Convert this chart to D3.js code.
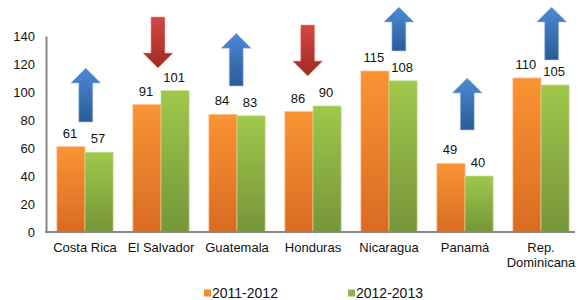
<!DOCTYPE html>
<html>
<head>
<meta charset="utf-8">
<script src="https://cdn.jsdelivr.net/npm/d3@7/dist/d3.min.js"></script>
<style>
  body { margin: 0; background: #fff; }
  svg { display: block; font-family: "Liberation Sans", Arial, sans-serif; }
</style>
</head>
<body>
<div id="chart"></div>
<script>
// ---- data ----
var countries = ["Costa Rica", "El Salvador", "Guatemala", "Honduras", "Nicaragua", "Panamá", "Rep. Dominicana"];
var series = ["2011-2012", "2012-2013"];
var values2011 = [61, 91, 84, 86, 115, 49, 110];
var values2012 = [57, 101, 83, 90, 108, 40, 105];
var yTicks = [0, 20, 40, 60, 80, 100, 120, 140];

// trend arrows (direction, span in value units, sideways nudge as share of a band step)
var arrowDir   = ["up", "down", "up", "down", "up", "up", "up"];
var arrowFrom  = [78.6, 153.6, 104.3, 147.9, 129.3, 72.9, 122.9];
var arrowTo    = [117.1, 117.1, 142, 111.4, 160.7, 110, 160.7];
var arrowShift = [0.01, -0.04, -0.01, -0.07, 0.13, 0.03, 0.14];

// ---- layout ----
var W = 580, H = 300;
var plot = {left: 46, right: 579, top: 36, bottom: 232};
var colors = {
  orange: ["#fa9434", "#d96b22"],
  green: ["#9fc84b", "#75953a"],
  up: ["#4d8ad4", "#2b5a97"],
  down: ["#d44644", "#a1291f"]
};

var svg = d3.select("#chart").append("svg").attr("width", W).attr("height", H);
var defs = svg.append("defs");

function gradient(id, c) {
  var g = defs.append("linearGradient").attr("id", id)
    .attr("x1", 0).attr("y1", 0).attr("x2", 0).attr("y2", 1);
  g.append("stop").attr("offset", "0%").attr("stop-color", c[0]);
  g.append("stop").attr("offset", "100%").attr("stop-color", c[1]);
}
gradient("gOrange", colors.orange);
gradient("gGreen", colors.green);
gradient("gUp", colors.up);
gradient("gDown", colors.down);

var x = d3.scaleBand().domain(countries).range([plot.left + 1, plot.right])
  .paddingInner(0.26).paddingOuter(0.13);
var xs = d3.scaleBand().domain(series).range([0, x.bandwidth()]);
var y = d3.scaleLinear().domain([0, 140]).range([plot.bottom, plot.top]);

// ---- axes ----
var yAxis = svg.append("g").attr("transform", "translate(" + plot.left + ",0)")
  .call(d3.axisLeft(y).tickValues(yTicks).tickSize(0).tickPadding(11));
yAxis.select(".domain").attr("stroke", "#868686").attr("stroke-width", 2);
yAxis.selectAll("text").attr("font-size", 13).attr("fill", "#111")
  .attr("font-family", "Liberation Sans, Arial, sans-serif");

// ---- bars ----
var rows = countries.map(function (c, i) {
  return {country: c, vals: [values2011[i], values2012[i]]};
});

var groups = svg.selectAll(".grp").data(rows).enter().append("g")
  .attr("class", "grp")
  .attr("transform", function (d) { return "translate(" + x(d.country) + ",0)"; });

groups.selectAll("rect").data(function (d) {
  return d.vals.map(function (v, j) { return {s: series[j], v: v}; });
}).enter().append("rect")
  .attr("x", function (d) { return xs(d.s); })
  .attr("y", function (d) { return y(d.v); })
  .attr("width", xs.bandwidth())
  .attr("height", function (d) { return y(0) - y(d.v); })
  .attr("fill", function (d) { return d.s === series[0] ? "url(#gOrange)" : "url(#gGreen)"; })
  .attr("stroke", function (d) { return d.s === series[0] ? "#fcc08a" : "#c6e094"; })
  .attr("stroke-width", 0.7);

groups.selectAll(".val").data(function (d) {
  return d.vals.map(function (v, j) { return {s: series[j], v: v}; });
}).enter().append("text")
  .attr("class", "val")
  .attr("x", function (d) { return xs(d.s) + xs.bandwidth() / 2 - 1; })
  .attr("y", function (d) { return y(d.v) - 9; })
  .attr("text-anchor", "middle")
  .attr("font-size", 13)
  .attr("fill", "#111")
  .text(function (d) { return d.v; });

// x axis line on top of bars
svg.append("line")
  .attr("x1", plot.left - 1).attr("x2", plot.right - 4)
  .attr("y1", y(0)).attr("y2", y(0))
  .attr("stroke", "#868686").attr("stroke-width", 2);

// category labels (split at the space after "Rep.")
svg.selectAll(".cat").data(countries).enter().append("text")
  .attr("class", "cat")
  .attr("text-anchor", "middle")
  .attr("font-size", 13)
  .attr("fill", "#111")
  .each(function (d) {
    var t = d3.select(this);
    var cx = x(d) + x.bandwidth() / 2;
    var lines = d.indexOf("Rep. ") === 0 ? ["Rep.", d.slice(5)] : [d];
    lines.forEach(function (l, k) {
      t.append("tspan").attr("x", cx).attr("y", 252 + k * 15).text(l);
    });
  });

// ---- arrows ----
var headW = 30, shaftW = 14, headH = 15;
var arrows = countries.map(function (c, i) {
  return {country: c, dir: arrowDir[i], from: arrowFrom[i], to: arrowTo[i], shift: arrowShift[i]};
});

svg.selectAll(".arrow").data(arrows).enter().append("path")
  .attr("class", "arrow")
  .attr("d", function (d) {
    var cx = x(d.country) + x.bandwidth() / 2 + d.shift * x.step();
    var yTail = y(d.from), yTip = y(d.to);
    var s = d.dir === "up" ? 1 : -1;     // up: tip above tail
    var yBase = yTip + s * headH;
    return "M" + cx + "," + yTip +
      "L" + (cx + headW / 2) + "," + yBase +
      "L" + (cx + shaftW / 2) + "," + yBase +
      "L" + (cx + shaftW / 2) + "," + yTail +
      "L" + (cx - shaftW / 2) + "," + yTail +
      "L" + (cx - shaftW / 2) + "," + yBase +
      "L" + (cx - headW / 2) + "," + yBase + "Z";
  })
  .attr("fill", function (d) { return d.dir === "up" ? "url(#gUp)" : "url(#gDown)"; })
  .attr("stroke", function (d) { return d.dir === "up" ? "#a9c6ea" : "#e8a5a3"; })
  .attr("stroke-width", 0.6);

// ---- legend ----
var legendX = [204, 348];
var legend = svg.selectAll(".leg").data(series).enter().append("g")
  .attr("class", "leg")
  .attr("transform", function (d, i) { return "translate(" + legendX[i] + ",293)"; });
legend.append("rect")
  .attr("x", 0).attr("y", -3.5).attr("width", 7).attr("height", 7)
  .attr("fill", function (d, i) { return i === 0 ? "#f08a2c" : "#8cb446"; });
legend.append("text")
  .attr("x", 8).attr("y", 5)
  .attr("font-size", 14).attr("fill", "#111")
  .text(function (d) { return d; });
</script>
</body>
</html>
